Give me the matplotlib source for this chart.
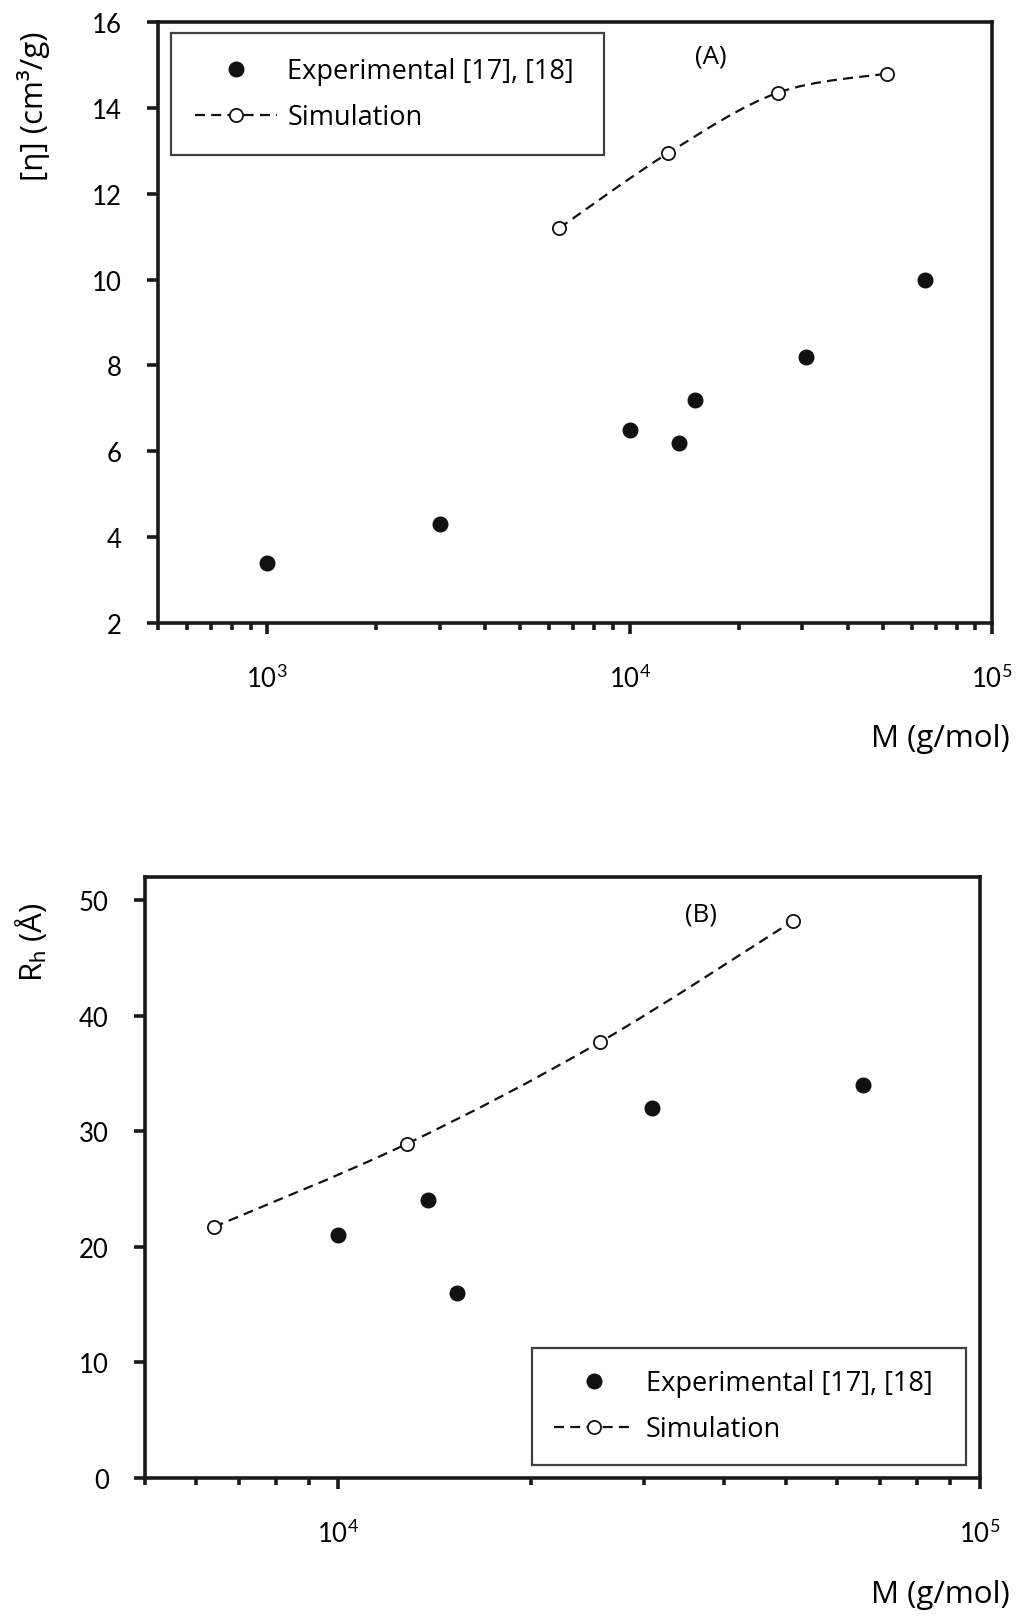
import numpy as np
import matplotlib
matplotlib.use("Agg")
import matplotlib.pyplot as plt
from matplotlib.path import Path
from matplotlib.patches import PathPatch
from matplotlib.lines import Line2D
from matplotlib.ticker import LogLocator

plt.rcParams['font.family'] = ['Lato', 'DejaVu Sans']
plt.rcParams['mathtext.fontset'] = 'custom'
plt.rcParams['mathtext.rm'] = 'Lato'
plt.rcParams['mathtext.it'] = 'Lato:italic'
plt.rcParams['mathtext.bf'] = 'Lato:bold'

# ---- Data: panel A (intrinsic viscosity) ----
a_exp_M = [1000, 3000, 10000, 13700, 15200, 30700, 65300]
a_exp_eta = [3.4, 4.3, 6.5, 6.2, 7.2, 8.2, 10.0]
a_sim_M = [6400, 12800, 25600, 51200]
a_sim_eta = [11.2, 12.95, 14.35, 14.8]

# ---- Data: panel B (hydrodynamic radius) ----
b_exp_M = [10000, 13800, 15300, 30900, 65900]
b_exp_Rh = [21.0, 24.0, 16.0, 32.0, 34.0]
b_sim_M = [6400, 12800, 25600, 51200]
b_sim_Rh = [21.7, 28.9, 37.7, 48.2]

legend_labels = ["Experimental [17], [18]", "Simulation"]

TICK_FS = 18.5
LABEL_FS = 22.5
LEG_FS = 19.5
WIDE = ['Open Sans', 'DejaVu Sans']


def smooth_path(xs, ys):
    """Catmull-Rom style smoothed Bezier path in (log10 x, y) space."""
    lx = np.log10(np.asarray(xs, float))
    y = np.asarray(ys, float)
    P = np.column_stack([lx, y])
    n = len(P)
    verts = [P[0]]
    codes = [Path.MOVETO]
    for i in range(n - 1):
        p0 = P[i - 1] if i > 0 else P[i]
        p1 = P[i]
        p2 = P[i + 1]
        p3 = P[i + 2] if i + 2 < n else P[i + 1]
        c1 = p1 + (p2 - p0) / 6.0
        c2 = p2 - (p3 - p1) / 6.0
        verts += [c1, c2, p2]
        codes += [Path.CURVE4] * 3
    verts = np.array(verts)
    verts[:, 0] = 10 ** verts[:, 0]
    return Path(verts, codes)


def style_axes(ax, xlim, ylim, yticks):
    ax.set_xscale('log')
    ax.set_xlim(*xlim)
    ax.set_ylim(*ylim)
    ax.set_yticks(yticks)
    for s in ax.spines.values():
        s.set_linewidth(2.6)
        s.set_color('#1a1a1a')
    ax.xaxis.set_major_locator(LogLocator(base=10, numticks=10))
    ax.xaxis.set_minor_locator(LogLocator(base=10, subs=np.arange(2, 10), numticks=20))
    ax.tick_params(axis='x', which='major', direction='out', length=8, width=2.6,
                   labelsize=TICK_FS, pad=22, top=False, color='#1a1a1a')
    ax.tick_params(axis='x', which='minor', direction='out', length=5, width=2.6,
                   top=False, color='#1a1a1a')
    ax.tick_params(axis='y', which='major', direction='out', length=8, width=2.6,
                   labelsize=TICK_FS, pad=18, right=False, color='#1a1a1a')
    ax.tick_params(axis='y', which='minor', left=False, right=False)


def draw_panel(ax, exp_x, exp_y, sim_x, sim_y):
    ax.plot(exp_x, exp_y, ls='none', marker='o', ms=10.5, color='#111111', zorder=4)
    patch = PathPatch(smooth_path(sim_x, sim_y), transform=ax.transData,
                      facecolor='none', edgecolor='#111111', lw=1.6,
                      linestyle=(0, (4.5, 2.8)), zorder=3)
    ax.add_patch(patch)
    ax.plot(sim_x, sim_y, ls='none', marker='o', ms=9.5, mfc='white',
            mec='#111111', mew=1.3, zorder=5)


def legend_handles():
    h1 = Line2D([], [], ls='none', marker='o', ms=10.5, color='#111111')
    h2 = Line2D([], [], ls=(0, (4.5, 2.8)), lw=1.6, color='#111111', marker='o', ms=9.5,
                mfc='white', mec='#111111', mew=1.3)
    return [h1, h2]


def make_legend(ax, loc, bbox, borderpad):
    leg = ax.legend(legend_handles(), legend_labels, loc=loc,
                    bbox_to_anchor=bbox, mode='expand',
                    prop={'family': WIDE, 'size': LEG_FS},
                    frameon=True, fancybox=False, edgecolor='#111111',
                    handlelength=3.0, handletextpad=0.4, labelspacing=0.66,
                    borderpad=borderpad, borderaxespad=0.0, numpoints=1)
    leg.get_frame().set_linewidth(1.6)
    return leg


fig = plt.figure(figsize=(10.24, 16.24), dpi=100)

# ---- Panel A ----
axA = fig.add_axes([158 / 1024, 1 - 624 / 1624, 834 / 1024, 601 / 1624])
style_axes(axA, (500, 1e5), (2, 16), np.arange(2, 17, 2))
draw_panel(axA, a_exp_M, a_exp_eta, a_sim_M, a_sim_eta)
make_legend(axA, 'upper left', (0.0156, 0.784, 0.519, 0.198), 0.9)
axA.text(0.663, 0.943, "(A)", transform=axA.transAxes, fontsize=TICK_FS,
         family=WIDE, ha='center', va='center')
axA.set_ylabel("[η] (cm³/g)", fontsize=LABEL_FS, family=WIDE, va='center', ha='center')
axA.yaxis.set_label_coords(-0.149, 0.862)
axA.set_xlabel("M (g/mol)", fontsize=LABEL_FS, family=WIDE, ha='right', va='center')
axA.xaxis.set_label_coords(1.0216, -0.191)

# ---- Panel B ----
axB = fig.add_axes([145 / 1024, 1 - 1478.6 / 1624, 834.5 / 1024, 600.6 / 1624])
style_axes(axB, (5000, 1e5), (0, 52), np.arange(0, 51, 10))
draw_panel(axB, b_exp_M, b_exp_Rh, b_sim_M, b_sim_Rh)
make_legend(axB, 'lower left', (0.464, 0.021, 0.52, 0.1965), 0.8)
axB.text(0.666, 0.938, "(B)", transform=axB.transAxes, fontsize=TICK_FS,
         family=WIDE, ha='center', va='center')
axB.set_ylabel(r"R$_\mathrm{h}$ (Å)", fontsize=LABEL_FS, family=WIDE, va='center', ha='center')
axB.yaxis.set_label_coords(-0.137, 0.893)
axB.set_xlabel("M (g/mol)", fontsize=LABEL_FS, family=WIDE, ha='right', va='center')
axB.xaxis.set_label_coords(1.0365, -0.194)

fig.savefig("out.png", dpi=100)
